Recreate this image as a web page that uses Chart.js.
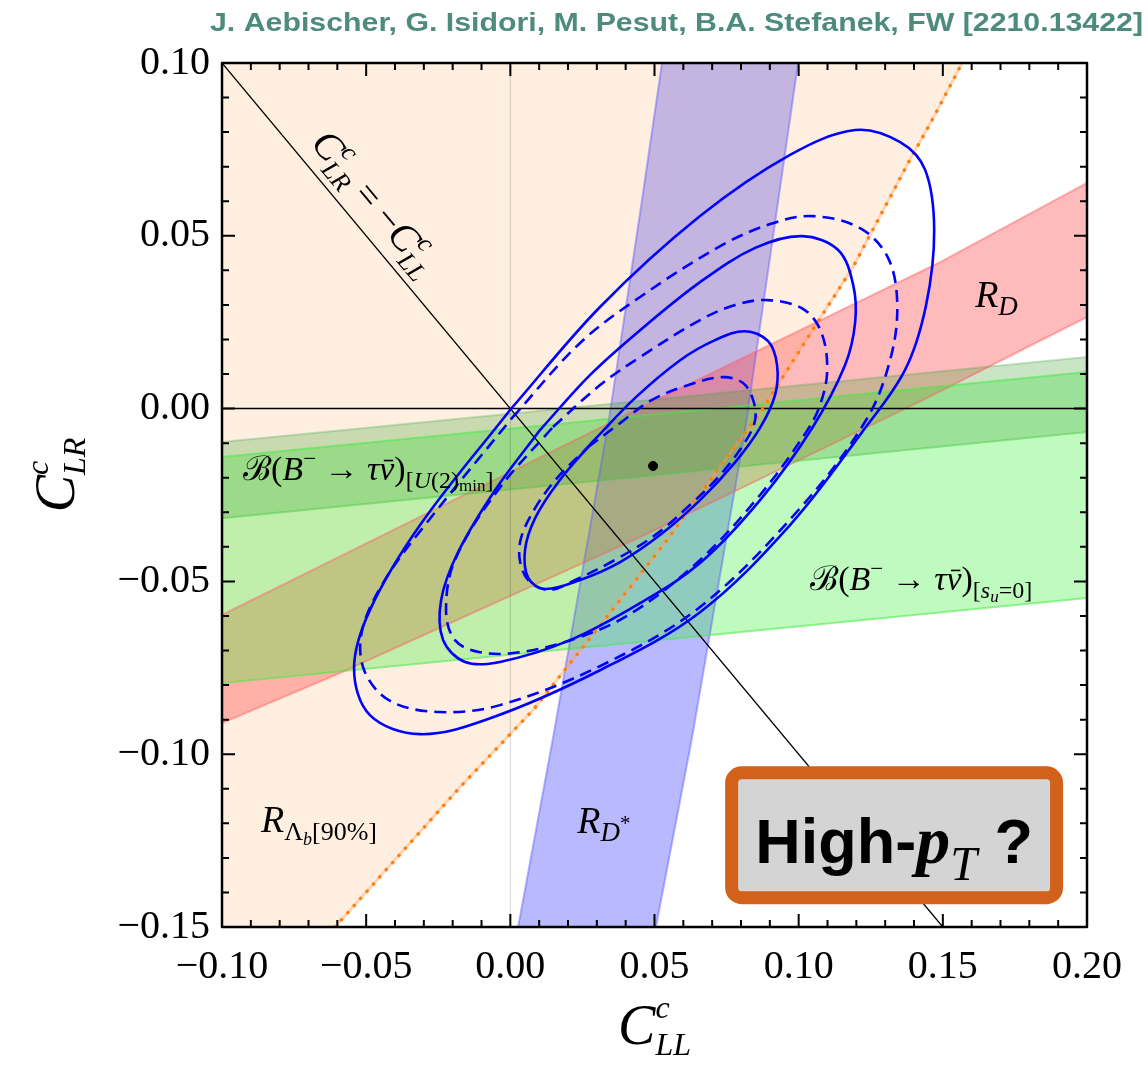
<!DOCTYPE html>
<html>
<head>
<meta charset="utf-8">
<script src="https://cdn.jsdelivr.net/npm/chart.js@4.4.1/dist/chart.umd.min.js"></script>
<style>
  html, body { margin: 0; padding: 0; background: #fff; }
  canvas { display: block; }
</style>
</head>
<body>
<canvas id="chart" width="1148" height="1066"></canvas>
<script>
// axis ranges and tick labels
const xMin = -0.10, xMax = 0.20, yMin = -0.15, yMax = 0.10;
const xTickLabels = ['\u22120.10', '\u22120.05', '0.00', '0.05', '0.10', '0.15', '0.20'];
const yTickLabels = ['\u22120.15', '\u22120.10', '\u22120.05', '0.00', '0.05', '0.10'];

// R_D* band (blue), left and right edges, top to bottom
const rDstarLeft = [[0.0526, 0.10], [0.0450, 0.0566], [0.0339, -0.0048], [0.0148, -0.0953], [0.0027, -0.15]];
const rDstarRight = [[0.0998, 0.10], [0.0814, -0.0062], [0.0630, -0.0953], [0.0505, -0.15]];

// R_Lambda_b [90%] boundary (orange dotted), region to the left is allowed
const rLambdaEdge = [[-0.0608, -0.15], [-0.0174, -0.1095], [0.0079, -0.0872], [0.0346, -0.0591], [0.0544, -0.0380],
  [0.0727, -0.0169], [0.0866, -0.0013], [0.1064, 0.0248], [0.1189, 0.0410], [0.1380, 0.0711], [0.1463, 0.0835], [0.1567, 0.10]];

// R_D band (red)
const rDUpper = [[-0.10, -0.0597], [0.045, 0.0002], [0.1491, 0.0424], [0.20, 0.0653]];
const rDLower = [[-0.10, -0.0910], [-0.0591, -0.0765], [0.045, -0.0372], [0.1432, 0.0025], [0.20, 0.0265]];

// B -> tau nu bands (green)
const su0Upper = [[-0.10, -0.0140], [0.20, 0.0106]];
const su0Lower = [[-0.10, -0.0794], [0.20, -0.0548]];
const u2Upper = [[-0.10, -0.0097], [0.20, 0.0149]];
const u2Lower = [[-0.10, -0.0317], [0.20, -0.0068]];

// fit contours (closed), solid and dashed
const outerSolid = [[-0.0001, -0.0004], [0.0311, 0.0294], [0.0658, 0.0557], [0.0970, 0.0734], [0.1196, 0.0806],
  [0.1352, 0.0771], [0.1439, 0.0690], [0.1470, 0.0517], [0.1442, 0.0300], [0.1369, 0.0112], [0.1220, -0.0068],
  [0.0970, -0.0337], [0.0658, -0.0589], [0.0311, -0.0757], [-0.0070, -0.0896], [-0.0313, -0.0942], [-0.0487, -0.0887],
  [-0.0542, -0.0751], [-0.0487, -0.0583], [-0.0313, -0.0337], [-0.0001, -0.0004]];
const outerDashed = [[0.0006, -0.0027], [0.0242, 0.0190], [0.0450, 0.0323], [0.0728, 0.0470], [0.0901, 0.0534],
  [0.1047, 0.0557], [0.1213, 0.0522], [0.1310, 0.0436], [0.1342, 0.0300], [0.1317, 0.0140], [0.1234, -0.0033],
  [0.1005, -0.0288], [0.0658, -0.0574], [0.0311, -0.0745], [-0.0036, -0.0858], [-0.0244, -0.0878], [-0.0417, -0.0846],
  [-0.0507, -0.0757], [-0.0514, -0.0641], [-0.0435, -0.0496], [-0.0296, -0.0337], [0.0006, -0.0027]];
const middleSolid = [[0.0103, -0.0062], [0.0276, 0.0097], [0.0450, 0.0227], [0.0658, 0.0366], [0.0849, 0.0465],
  [0.1012, 0.0499], [0.1137, 0.0459], [0.1189, 0.0358], [0.1196, 0.0250], [0.1161, 0.0126], [0.1047, -0.0056],
  [0.0866, -0.0265], [0.0658, -0.0447], [0.0450, -0.0563], [0.0207, -0.0670], [-0.0036, -0.0733], [-0.0157, -0.0733],
  [-0.0233, -0.0670], [-0.0240, -0.0554], [-0.0181, -0.0415], [-0.0053, -0.0236], [0.0103, -0.0062]];
const middleDashed = [[0.0148, -0.0053], [0.0311, 0.0068], [0.0450, 0.0149], [0.0658, 0.0256], [0.0780, 0.0300],
  [0.0894, 0.0314], [0.1016, 0.0288], [0.1078, 0.0222], [0.1099, 0.0112], [0.1074, 0.0010], [0.1026, -0.0068],
  [0.0866, -0.0250], [0.0658, -0.0438], [0.0426, -0.0589], [0.0242, -0.0661], [0.0034, -0.0705], [-0.0105, -0.0705],
  [-0.0192, -0.0670], [-0.0223, -0.0583], [-0.0192, -0.0438], [-0.0043, -0.0236], [0.0148, -0.0053]];
const innerSolid = [[0.0284, -0.0097], [0.0433, 0.0031], [0.0589, 0.0140], [0.0710, 0.0198], [0.0814, 0.0224],
  [0.0894, 0.0195], [0.0925, 0.0126], [0.0918, 0.0039], [0.0866, -0.0056], [0.0780, -0.0155], [0.0658, -0.0265],
  [0.0519, -0.0366], [0.0381, -0.0444], [0.0242, -0.0496], [0.0120, -0.0522], [0.0062, -0.0490], [0.0051, -0.0409],
  [0.0086, -0.0317], [0.0166, -0.0213], [0.0284, -0.0097]];
const innerDashed = [[0.0270, -0.0111], [0.0381, -0.0042], [0.0485, 0.0022], [0.0606, 0.0065], [0.0735, 0.0091],
  [0.0807, 0.0074], [0.0842, 0.0025], [0.0849, -0.0033], [0.0814, -0.0097], [0.0728, -0.0192], [0.0623, -0.0279],
  [0.0502, -0.0366], [0.0363, -0.0438], [0.0225, -0.0496], [0.0138, -0.0525], [0.0068, -0.0502], [0.0034, -0.0444],
  [0.0037, -0.0375], [0.0086, -0.0288], [0.0162, -0.0201], [0.0270, -0.0111]];

const bestFit = [[0.0495, -0.0166]];
const diagonal = [[-0.10, 0.10], [0.15, -0.15]];
const zeroH = [[-0.10, 0], [0.20, 0]];
const zeroV = [[0, -0.15], [0, 0.10]];

const SERIF = "'Liberation Serif', 'DejaVu Serif', serif";
const it = s => `italic ${s}px ${SERIF}`;
const up = s => `${s}px ${SERIF}`;

const toPts = arr => arr.map(([x, y]) => ({ x, y }));
const datasets = [];

function addArea(pts, color) {
    datasets.push({ data: toPts(pts), area: true, fillColor: color, showLine: false, pointRadius: 0 });
}
function addLine(pts, opts) {
    datasets.push(Object.assign({ data: toPts(pts), showLine: true, pointRadius: 0, borderWidth: 2, fill: false, tension: 0 }, opts));
}

// filled regions, bottom first
addArea([...rDstarLeft, ...rDstarRight.slice().reverse()], 'rgba(80,80,255,0.40)');
addArea([...rLambdaEdge, [xMin, yMax], [xMin, yMin]], 'rgba(255,150,50,0.15)');
addArea([...rDUpper, ...rDLower.slice().reverse()], 'rgba(255,60,60,0.35)');
addArea([...su0Upper, ...su0Lower.slice().reverse()], 'rgba(60,240,60,0.33)');
addArea([...u2Upper, ...u2Lower.slice().reverse()], 'rgba(60,160,50,0.28)');

// band edges
addLine(rDstarLeft, { borderColor: 'rgba(90,90,255,0.45)' });
addLine(rDstarRight, { borderColor: 'rgba(90,90,255,0.45)' });
addLine(rLambdaEdge, { borderColor: 'rgba(255,160,90,0.40)', borderWidth: 3 });
addLine(rDUpper, { borderColor: 'rgba(255,90,90,0.45)' });
addLine(rDLower, { borderColor: 'rgba(255,90,90,0.45)' });
addLine(su0Upper, { borderColor: 'rgba(70,235,70,0.55)' });
addLine(su0Lower, { borderColor: 'rgba(70,235,70,0.55)' });
addLine(u2Upper, { borderColor: 'rgba(70,170,70,0.30)' });
addLine(u2Lower, { borderColor: 'rgba(70,200,70,0.45)' });

// reference lines
addLine(zeroV, { borderColor: 'rgba(0,0,0,0.15)', borderWidth: 1.2 });
addLine(zeroH, { borderColor: '#000', borderWidth: 1.5 });
addLine(diagonal, { borderColor: '#000', borderWidth: 1.3 });
addLine(rLambdaEdge, { borderColor: '#ff7f0e', borderWidth: 3.5, borderDash: [0.1, 9.5], borderCapStyle: 'round' });

// contours
const solid = { borderColor: '#0000ff', borderWidth: 2.6, tension: 0.35 };
const dashed = { borderColor: '#0000ff', borderWidth: 2.6, tension: 0.35, borderDash: [12, 7] };
addLine(outerSolid, solid);
addLine(outerDashed, dashed);
addLine(middleSolid, solid);
addLine(middleDashed, dashed);
addLine(innerSolid, solid);
addLine(innerDashed, dashed);

datasets.push({ data: toPts(bestFit), pointRadius: 4.5, backgroundColor: '#000', borderColor: '#000', showLine: false });

// first pushed is drawn first (at the bottom)
datasets.forEach((d, i) => { d.order = datasets.length - i; });

const areaFill = {
    id: 'areaFill',
    beforeDatasetsDraw(chart) {
        const { ctx, chartArea: a } = chart;
        ctx.save();
        ctx.beginPath();
        ctx.rect(a.left, a.top, a.width, a.height);
        ctx.clip();
        chart.data.datasets.forEach((ds, i) => {
            if (!ds.area) return;
            const pts = chart.getDatasetMeta(i).data;
            ctx.beginPath();
            pts.forEach((p, k) => (k ? ctx.lineTo(p.x, p.y) : ctx.moveTo(p.x, p.y)));
            ctx.closePath();
            ctx.fillStyle = ds.fillColor;
            ctx.fill();
        });
        ctx.restore();
    }
};

function richWidth(ctx, runs) {
    let w = 0;
    runs.forEach(r => {
        ctx.font = r.font;
        if (!r.keep) w += ctx.measureText(r.t).width;
    });
    return w;
}

// runs of text with sub/superscripts; keep = don't advance, bar = overline size
function drawRich(ctx, x, y, runs) {
    let cx = x;
    runs.forEach(r => {
        ctx.font = r.font;
        const w = ctx.measureText(r.t).width;
        const yy = y + (r.dy || 0);
        ctx.fillText(r.t, cx, yy);
        if (r.bar) ctx.fillRect(cx + w * 0.3, yy - r.bar * 0.6, w * 0.62, 1.6);
        if (!r.keep) cx += w;
    });
    return cx;
}

function bRuns(tail) {
    return [
        { t: '\u212C', font: up(34) }, { t: '(', font: up(34) }, { t: 'B', font: it(34) },
        { t: '\u2212', font: up(23), dy: -14 }, { t: ' \u2192 ', font: up(34) }, { t: '\u03C4', font: it(34) },
        { t: '\u03BD', font: it(34), bar: 34 }, { t: ')', font: up(34) }
    ].concat(tail);
}

const decorations = {
    id: 'decorations',
    afterDatasetsDraw(chart) {
        const { ctx, chartArea: a, scales: { x, y } } = chart;
        const px = v => x.getPixelForValue(v);
        const py = v => y.getPixelForValue(v);

        ctx.save();
        ctx.fillStyle = '#000';
        ctx.textAlign = 'left';
        ctx.textBaseline = 'alphabetic';

        // region labels
        drawRich(ctx, px(0.1612), py(0.0294), [
            { t: 'R', font: it(38) }, { t: 'D', font: it(27), dy: 8 }
        ]);
        drawRich(ctx, px(0.0232), py(-0.1228), [
            { t: 'R', font: it(38) }, { t: 'D', font: it(27), dy: 8 }, { t: '*', font: up(21), dy: -3 }
        ]);
        drawRich(ctx, px(-0.0865), py(-0.1225), [
            { t: 'R', font: it(38) }, { t: '\u039B', font: up(26), dy: 8 }, { t: 'b', font: it(18), dy: 13 },
            { t: '[90%]', font: up(26), dy: 8 }
        ]);
        drawRich(ctx, px(-0.0927), py(-0.0207), bRuns([
            { t: '[', font: up(24), dy: 8 }, { t: 'U', font: it(24), dy: 8 },
            { t: '(2)', font: up(24), dy: 8 }, { t: 'min', font: up(17), dy: 11 }, { t: ']', font: up(24), dy: 8 }
        ]));
        drawRich(ctx, px(0.104), py(-0.0525), bRuns([
            { t: '[', font: up(24), dy: 8 }, { t: 's', font: it(24), dy: 8 },
            { t: 'u', font: it(17), dy: 12 }, { t: '=0]', font: up(24), dy: 8 }
        ]));

        // label along C_LR = -C_LL
        const ang = Math.atan2(py(diagonal[1][1]) - py(diagonal[0][1]), px(diagonal[1][0]) - px(diagonal[0][0]));
        const diagRuns = [
            { t: 'C', font: it(40) }, { t: 'c', font: it(26), dy: -17, keep: true }, { t: 'LR', font: it(26), dy: 9 },
            { t: ' = \u2212', font: up(38) },
            { t: 'C', font: it(40) }, { t: 'c', font: it(26), dy: -17, keep: true }, { t: 'LL', font: it(26), dy: 9 }
        ];
        ctx.save();
        ctx.translate(px(-0.047), py(0.0595));
        ctx.rotate(ang);
        drawRich(ctx, -richWidth(ctx, diagRuns) / 2, 12, diagRuns);
        ctx.restore();

        // High-pT badge
        const bx0 = px(0.0745), bx1 = px(0.1917), by0 = py(-0.1035), by1 = py(-0.1434);
        ctx.beginPath();
        ctx.roundRect(bx0 + 6.5, by0 + 6.5, bx1 - bx0 - 13, by1 - by0 - 13, 10);
        ctx.fillStyle = '#d4d4d4';
        ctx.fill();
        ctx.lineWidth = 13;
        ctx.strokeStyle = '#d2621b';
        ctx.lineJoin = 'round';
        ctx.stroke();
        ctx.fillStyle = '#000';
        const SANS = "'Liberation Sans', Arial, sans-serif";
        const badgeRuns = [
            { t: 'High-', font: `bold 63px ${SANS}` },
            { t: 'p', font: `italic bold 68px ${SERIF}` },
            { t: 'T', font: `italic 48px ${SERIF}`, dy: 17 },
            { t: ' ?', font: `bold 63px ${SANS}` }
        ];
        const bw = richWidth(ctx, badgeRuns);
        drawRich(ctx, (bx0 + bx1) / 2 - bw / 2, by0 + 97, badgeRuns);

        // frame and inward ticks on all four sides
        ctx.strokeStyle = '#000';
        ctx.lineWidth = 2;
        for (let i = -10; i <= 20; i++) {
            const xp = px(i / 100), len = i % 5 === 0 ? 13 : 7;
            ctx.beginPath();
            ctx.moveTo(xp, a.bottom); ctx.lineTo(xp, a.bottom - len);
            ctx.moveTo(xp, a.top); ctx.lineTo(xp, a.top + len);
            ctx.stroke();
        }
        for (let j = -15; j <= 10; j++) {
            const yp = py(j / 100), len = j % 5 === 0 ? 13 : 7;
            ctx.beginPath();
            ctx.moveTo(a.left, yp); ctx.lineTo(a.left + len, yp);
            ctx.moveTo(a.right, yp); ctx.lineTo(a.right - len, yp);
            ctx.stroke();
        }
        ctx.lineWidth = 2.5;
        ctx.strokeRect(a.left, a.top, a.width, a.height);

        // axis titles
        const xTitle = [
            { t: 'C', font: it(56) }, { t: 'c', font: it(32), dy: -26, keep: true }, { t: 'LL', font: it(32), dy: 11 }
        ];
        drawRich(ctx, (a.left + a.right) / 2 - richWidth(ctx, xTitle) / 2, a.bottom + 117, xTitle);
        const yTitle = [
            { t: 'C', font: it(56) }, { t: 'c', font: it(32), dy: -26, keep: true }, { t: 'LR', font: it(32), dy: 11 }
        ];
        ctx.save();
        ctx.translate(a.left - 148, (a.top + a.bottom) / 2 - 20);
        ctx.rotate(-Math.PI / 2);
        drawRich(ctx, -richWidth(ctx, yTitle) / 2, 0, yTitle);
        ctx.restore();

        // credit line
        const credit = 'J. Aebischer, G. Isidori, M. Pesut, B.A. Stefanek, FW [2210.13422]';
        ctx.font = "bold 25px 'Liberation Sans Narrow', 'Liberation Sans', Arial, sans-serif";
        const cw = ctx.measureText(credit).width;
        ctx.save();
        ctx.translate(chart.width - 5, 31);
        ctx.scale(933 / cw, 1);
        ctx.textAlign = 'right';
        ctx.fillStyle = '#4d8b7d';
        ctx.fillText(credit, 0, 0);
        ctx.restore();

        ctx.restore();
    }
};

const tickFont = { family: SERIF, size: 40 };

new Chart(document.getElementById('chart'), {
    type: 'scatter',
    data: { datasets },
    options: {
        responsive: false,
        animation: false,
        devicePixelRatio: 1,
        events: [],
        layout: { padding: { top: 63, right: 61, bottom: 0, left: 0 } },
        plugins: { legend: { display: false }, tooltip: { enabled: false } },
        scales: {
            x: {
                type: 'linear', min: xMin, max: xMax,
                border: { display: false },
                grid: { display: false, drawTicks: false },
                afterFit: s => { s.height = 139; },
                ticks: {
                    stepSize: 0.05, autoSkip: false, maxRotation: 0, padding: 16, color: '#000', font: tickFont,
                    callback: v => xTickLabels[Math.round((v - xMin) / 0.05)]
                }
            },
            y: {
                type: 'linear', min: yMin, max: yMax,
                border: { display: false },
                grid: { display: false, drawTicks: false },
                afterFit: s => { s.width = 222; },
                ticks: {
                    stepSize: 0.05, autoSkip: false, padding: 12, color: '#000', font: tickFont,
                    callback: v => yTickLabels[Math.round((v - yMin) / 0.05)]
                }
            }
        }
    },
    plugins: [areaFill, decorations]
});
</script>
</body>
</html>
